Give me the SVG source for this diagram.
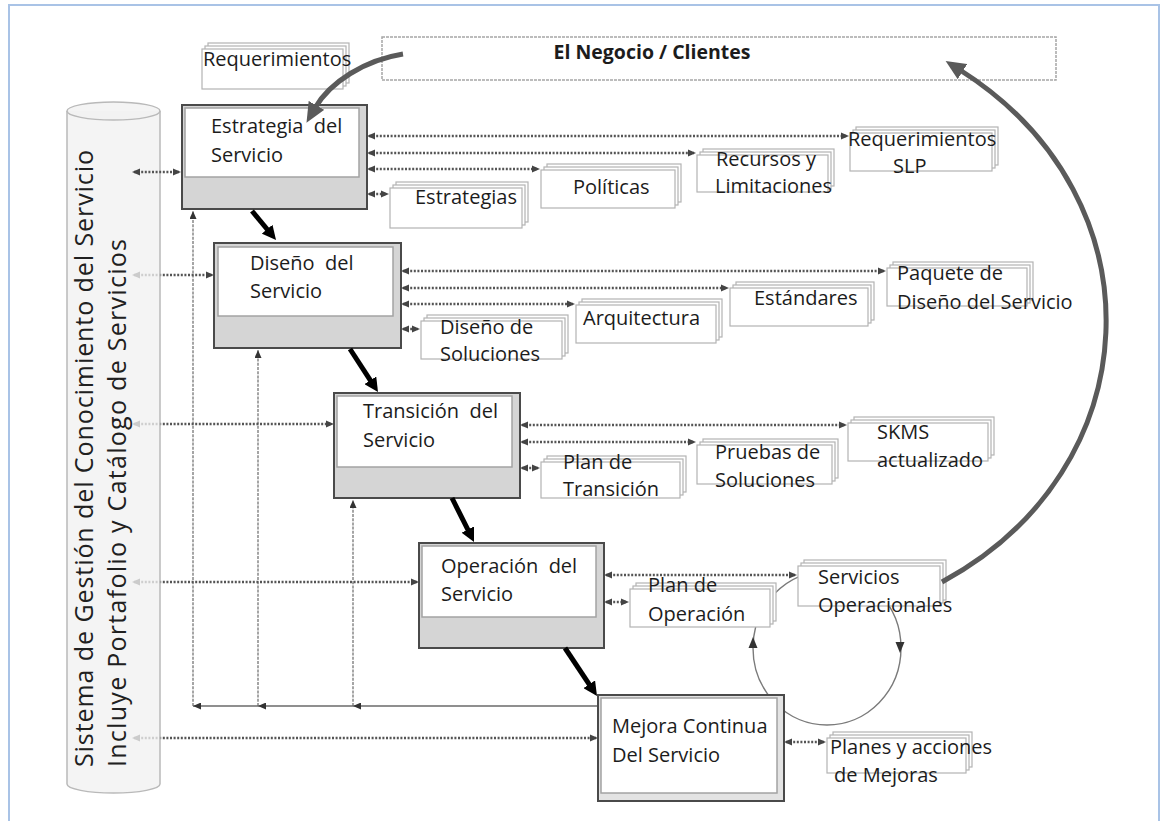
<svg xmlns="http://www.w3.org/2000/svg" width="1160" height="821" viewBox="0 0 1160 821">
  <style>
    text { font-family: "Open Sans", "Liberation Sans", sans-serif; font-size: 20px; fill: #1c1c1c; }
    .frame { fill: #ffffff; stroke: #a9c3e6; stroke-width: 2; }
    .outer { fill: #d5d5d5; stroke: #4a4a4a; stroke-width: 2; }
    .inner { fill: #ffffff; stroke: #a3a3a3; stroke-width: 1.5; }
    .outer5 { fill: #e3e3e3; stroke: #4a4a4a; stroke-width: 2; }
    .doc { fill: #ffffff; stroke: #b3b3b3; stroke-width: 1.2; }
    .dots { fill: none; stroke: #555555; stroke-width: 2.4; stroke-dasharray: 2 1.6; marker-start: url(#dotHead); marker-end: url(#dotHead); }
    .thick { fill: none; stroke: #000000; stroke-width: 5; marker-end: url(#thickHead); }
    .curve { fill: none; stroke: #5a5a5a; stroke-width: 5; marker-end: url(#bigHead); }
    .fbh { fill: none; stroke: #6a6a6a; stroke-width: 1.4; marker-end: url(#thinHead); }
    .fbv { fill: none; stroke: #6a6a6a; stroke-width: 1.2; stroke-dasharray: 3 1.2; marker-end: url(#thinHead); }
    .loop { fill: none; stroke: #7a7a7a; stroke-width: 1.4; }
    .tri { fill: #333333; }
    .cyl { fill: #f1f1f1; fill-opacity: 0.78; stroke: #b9b9b9; stroke-width: 1.5; }
    .cyltext { font-size: 25px; fill: #202020; }
    .biz { fill: #ffffff; stroke: #a6a6a6; stroke-width: 1.5; stroke-dasharray: 3 1; }
  </style>
  <defs>
    <marker id="dotHead" viewBox="0 0 8 8" markerWidth="8" markerHeight="8" refX="6" refY="4" orient="auto-start-reverse" markerUnits="userSpaceOnUse">
      <path d="M0,0.5 L8,4 L0,7.5 z" fill="#444444"/>
    </marker>
    <marker id="thickHead" viewBox="0 0 14 14" markerWidth="14" markerHeight="14" refX="3" refY="7" orient="auto" markerUnits="userSpaceOnUse">
      <path d="M0,0 L14,7 L0,14 z" fill="#000000"/>
    </marker>
    <marker id="bigHead" viewBox="0 0 20 18" markerWidth="20" markerHeight="18" refX="3" refY="9" orient="auto" markerUnits="userSpaceOnUse">
      <path d="M0,0 L20,9 L0,18 z" fill="#5a5a5a"/>
    </marker>
    <marker id="thinHead" viewBox="0 0 8 7" markerWidth="8" markerHeight="7" refX="8" refY="3.5" orient="auto" markerUnits="userSpaceOnUse">
      <path d="M0,0 L8,3.5 L0,7 z" fill="#333333"/>
    </marker>
  </defs>

  <!-- page frame -->
  <rect class="frame" x="9" y="5" width="1150" height="840"/>

  <!-- feedback lines from continual improvement back to each stage -->
  <g id="feedback">
    <path class="fbh" d="M597,706 H353"/>
    <path class="fbh" d="M353,706 H258"/>
    <path class="fbh" d="M258,706 H193"/>
    <path class="fbv" d="M193,706 V211"/>
    <path class="fbv" d="M258,706 V350"/>
    <path class="fbv" d="M353,706 V500"/>
  </g>

  <!-- operation / improvement loop -->
  <g id="loop">
    <ellipse class="loop" cx="827" cy="648" rx="74" ry="77"/>
    <polygon class="tri" points="753,637 748.5,648 757.5,648"/>
    <polygon class="tri" points="900,653 895.5,642 904.5,642"/>
  </g>

  <!-- dotted information flows -->
  <g id="connectors">
    <path class="dots" d="M134,275 H212"/>
    <path class="dots" d="M134,424 H332"/>
    <path class="dots" d="M134,582 H417"/>
    <path class="dots" d="M134,738 H596"/>

    <path class="dots" d="M369,136 H847"/>
    <path class="dots" d="M369,153 H694"/>
    <path class="dots" d="M369,169 H538"/>
    <path class="dots" d="M369,194 H387"/>

    <path class="dots" d="M403,271 H884"/>
    <path class="dots" d="M403,288 H727"/>
    <path class="dots" d="M403,304 H573"/>
    <path class="dots" d="M403,329 H418"/>

    <path class="dots" d="M522,425 H845"/>
    <path class="dots" d="M522,442 H694"/>
    <path class="dots" d="M522,468 H538"/>

    <path class="dots" d="M606,575 H795"/>
    <path class="dots" d="M606,602 H627"/>

    <path class="dots" d="M786,742 H824"/>
  </g>

  <!-- business / customers -->
  <g id="negocio">
    <rect class="biz" x="382" y="37" width="674" height="43"/>
    <text x="652" y="59" text-anchor="middle" font-weight="bold" font-size="19" textLength="197" lengthAdjust="spacingAndGlyphs">El Negocio / Clientes</text>
  </g>

  <!-- lifecycle stages -->
  <g id="estrategia">
    <rect class="outer" x="182" y="105" width="185" height="104"/>
    <rect class="inner" x="185" y="108" width="174" height="69"/>
    <text x="211" y="133">Estrategia&#160; del</text>
    <text x="211" y="162">Servicio</text>
  </g>
  <g id="diseno">
    <rect class="outer" x="214" y="243" width="187" height="105"/>
    <rect class="inner" x="218" y="247" width="175" height="69"/>
    <text x="250" y="270">Diseño&#160; del</text>
    <text x="250" y="298">Servicio</text>
  </g>
  <g id="transicion">
    <rect class="outer" x="334" y="393" width="186" height="105"/>
    <rect class="inner" x="337" y="396" width="175" height="71"/>
    <text x="363" y="418">Transición&#160; del</text>
    <text x="363" y="447">Servicio</text>
  </g>
  <g id="operacion">
    <rect class="outer" x="419" y="543" width="185" height="105"/>
    <rect class="inner" x="422" y="546" width="174" height="71"/>
    <text x="441" y="573">Operación&#160; del</text>
    <text x="441" y="601">Servicio</text>
  </g>

  <!-- stage outputs (stacked documents) -->
  <g id="requerimientos">
    <rect class="doc" x="208" y="43" width="141" height="40"/>
    <rect class="doc" x="205" y="46" width="141" height="40"/>
    <rect class="doc" x="202" y="49" width="141" height="40"/>
    <text x="203" y="66">Requerimientos</text>
  </g>
  <g id="estrategias">
    <rect class="doc" x="396" y="182" width="132" height="40"/>
    <rect class="doc" x="393" y="185" width="132" height="40"/>
    <rect class="doc" x="390" y="188" width="132" height="40"/>
    <text x="415" y="204">Estrategias</text>
  </g>
  <g id="politicas">
    <rect class="doc" x="547" y="164" width="134" height="38"/>
    <rect class="doc" x="544" y="167" width="134" height="38"/>
    <rect class="doc" x="541" y="170" width="134" height="38"/>
    <text x="573" y="194">Políticas</text>
  </g>
  <g id="recursos">
    <rect class="doc" x="703" y="149" width="131" height="37"/>
    <rect class="doc" x="700" y="152" width="131" height="37"/>
    <rect class="doc" x="697" y="155" width="131" height="37"/>
    <text x="716" y="166">Recursos y</text>
    <text x="715" y="193">Limitaciones</text>
  </g>
  <g id="slp">
    <rect class="doc" x="856" y="127" width="142" height="38"/>
    <rect class="doc" x="853" y="130" width="142" height="38"/>
    <rect class="doc" x="850" y="133" width="142" height="38"/>
    <text x="848" y="146">Requerimientos</text>
    <text x="893" y="173">SLP</text>
  </g>

  <g id="disenosoluciones">
    <rect class="doc" x="427" y="315" width="141" height="38"/>
    <rect class="doc" x="424" y="318" width="141" height="38"/>
    <rect class="doc" x="421" y="321" width="141" height="38"/>
    <text x="440" y="334">Diseño de</text>
    <text x="440" y="361">Soluciones</text>
  </g>
  <g id="arquitectura">
    <rect class="doc" x="582" y="299" width="140" height="38"/>
    <rect class="doc" x="579" y="302" width="140" height="38"/>
    <rect class="doc" x="576" y="305" width="140" height="38"/>
    <text x="583" y="325">Arquitectura</text>
  </g>
  <g id="estandares">
    <rect class="doc" x="736" y="282" width="138" height="38"/>
    <rect class="doc" x="733" y="285" width="138" height="38"/>
    <rect class="doc" x="730" y="288" width="138" height="38"/>
    <text x="754" y="305">Estándares</text>
  </g>
  <g id="paquete">
    <rect class="doc" x="893" y="262" width="140" height="38"/>
    <rect class="doc" x="890" y="265" width="140" height="38"/>
    <rect class="doc" x="887" y="268" width="140" height="38"/>
    <text x="897" y="280">Paquete de</text>
    <text x="897" y="309">Diseño del Servicio</text>
  </g>

  <g id="plantransicion">
    <rect class="doc" x="547" y="456" width="139" height="36"/>
    <rect class="doc" x="544" y="459" width="139" height="36"/>
    <rect class="doc" x="541" y="462" width="139" height="36"/>
    <text x="563" y="469">Plan de</text>
    <text x="563" y="496">Transición</text>
  </g>
  <g id="pruebas">
    <rect class="doc" x="703" y="439" width="135" height="39"/>
    <rect class="doc" x="700" y="442" width="135" height="39"/>
    <rect class="doc" x="697" y="445" width="135" height="39"/>
    <text x="715" y="459">Pruebas de</text>
    <text x="715" y="487">Soluciones</text>
  </g>
  <g id="skms">
    <rect class="doc" x="854" y="417" width="140" height="38"/>
    <rect class="doc" x="851" y="420" width="140" height="38"/>
    <rect class="doc" x="848" y="423" width="140" height="38"/>
    <text x="877" y="439">SKMS</text>
    <text x="877" y="467">actualizado</text>
  </g>

  <g id="planoperacion">
    <rect class="doc" x="636" y="583" width="140" height="38"/>
    <rect class="doc" x="633" y="586" width="140" height="38"/>
    <rect class="doc" x="630" y="589" width="140" height="38"/>
    <text x="648" y="592">Plan de</text>
    <text x="648" y="621">Operación</text>
  </g>
  <g id="serviciosoperacionales">
    <rect class="doc" x="804" y="560" width="142" height="40"/>
    <rect class="doc" x="801" y="563" width="142" height="40"/>
    <rect class="doc" x="798" y="566" width="142" height="40"/>
    <text x="818" y="584">Servicios</text>
    <text x="818" y="612">Operacionales</text>
  </g>

  <g id="mejora">
    <rect class="outer5" x="598" y="695" width="186" height="106"/>
    <rect class="inner" x="601" y="698" width="176" height="95"/>
    <text x="612" y="733">Mejora Continua</text>
    <text x="612" y="762">Del Servicio</text>
  </g>
  <g id="planes">
    <rect class="doc" x="833" y="732" width="139" height="35"/>
    <rect class="doc" x="830" y="735" width="139" height="35"/>
    <rect class="doc" x="827" y="738" width="139" height="35"/>
    <text x="830" y="754">Planes y acciones</text>
    <text x="834" y="782">de Mejoras</text>
  </g>

  <!-- knowledge management system -->
  <g id="skms-cilindro">
    <path class="cyl" d="M67,111 V784 A46.5,9 0 0 0 160,784 V111"/>
    <ellipse class="cyl" cx="113.5" cy="111" rx="46.5" ry="9"/>
    <text class="cyltext" transform="translate(93,767) rotate(-90)" textLength="617" lengthAdjust="spacing">Sistema de Gestión del Conocimiento del Servicio</text>
    <text class="cyltext" transform="translate(126,767) rotate(-90)" textLength="528" lengthAdjust="spacing">Incluye Portafolio y Catálogo de Servicios</text>
  </g>

  <!-- link from the knowledge system to the strategy stage, in front of the cylinder -->
  <g id="connector-estrategia">
    <path class="dots" d="M134,172 H179"/>
  </g>

  <!-- lifecycle flow and business arrows -->
  <g id="flow">
    <path class="thick" d="M252,211 L269,231.5"/>
    <path class="thick" d="M350,349 L372,382.8"/>
    <path class="thick" d="M452,498 L469.1,532.2"/>
    <path class="thick" d="M565,648 L590.9,686.8"/>
    <path class="curve" d="M403,54 C365,60 330,82 315,108"/>
    <path class="curve" d="M942,582 C1150,470 1165,200 960,70"/>
  </g>
</svg>
